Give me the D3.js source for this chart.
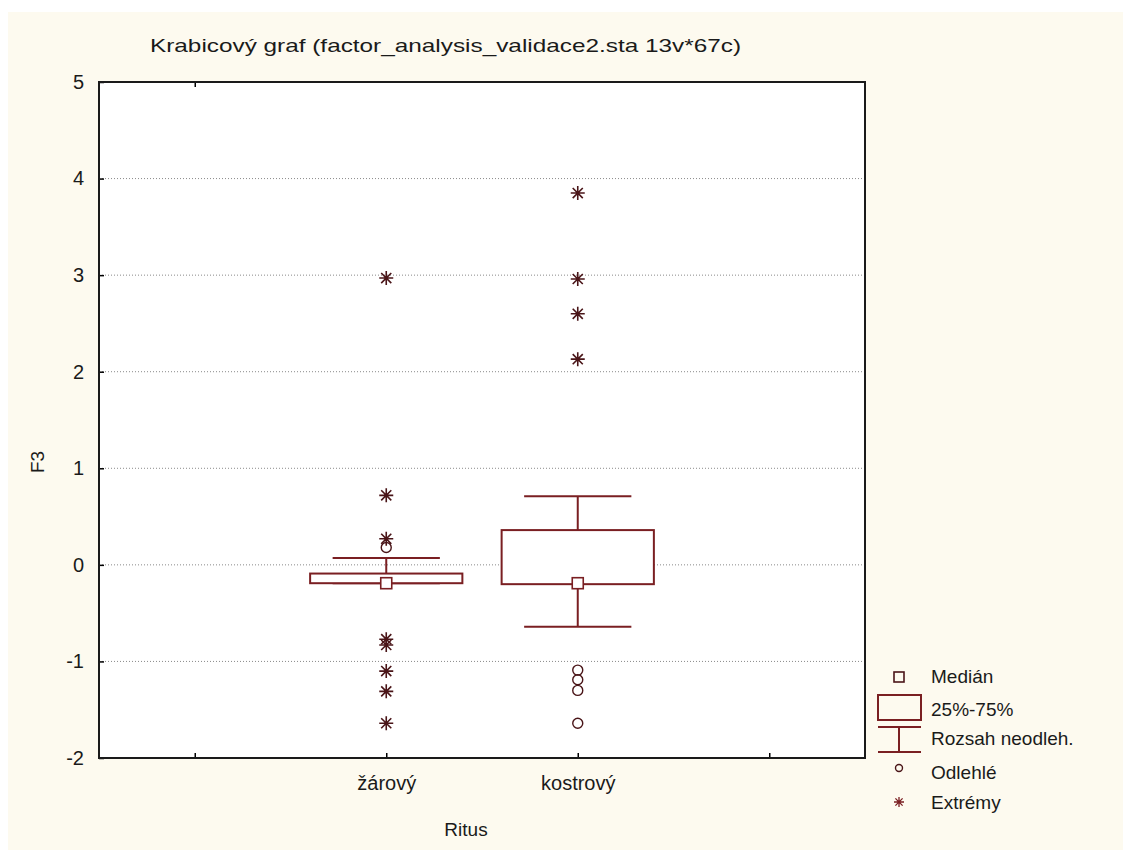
<!DOCTYPE html>
<html><head><meta charset="utf-8">
<script src="https://cdn.jsdelivr.net/npm/d3@7"></script>
<style>
html,body{margin:0;padding:0;background:#ffffff;}
svg{display:block;}
text{font-family:"Liberation Sans",Arial,sans-serif;fill:#1a1a1a;}
</style></head>
<body>
<svg id="chart" width="1123" height="850"></svg>
<script>
// ---- data ----
const title = "Krabicový graf (factor_analysis_validace2.sta 13v*67c)";
const categories = ["žárový", "kostrový"];
const categoryPositions = [2, 3];
const xTicks = [1, 2, 3, 4];
const yTicks = [-2, -1, 0, 1, 2, 3, 4, 5];
const q1 = [-0.19, -0.20];
const q3 = [-0.09, 0.36];
const medians = [-0.19, -0.19];
const whiskerLow = [-0.19, -0.64];
const whiskerHigh = [0.07, 0.71];
const outliers = [[0.18], [-1.09, -1.19, -1.30, -1.64]];
const extremes = [[2.97, 0.72, 0.27, -0.77, -0.83, -1.10, -1.31, -1.64], [3.85, 2.96, 2.60, 2.13]];
const legendLabels = ["Medián", "25%-75%", "Rozsah neodleh.", "Odlehlé", "Extrémy"];

// ---- layout ----
const svg = d3.select("#chart");
const W = 1123, H = 850;
const plot = {left: 99, top: 82, right: 865, bottom: 758};
const maroon = "#7a1f22";
const dark = "#4a1518";

svg.append("rect").attr("x", 0).attr("y", 0).attr("width", W).attr("height", H).attr("fill", "#ffffff");
svg.append("rect").attr("x", 8).attr("y", 12).attr("width", W - 8).attr("height", H - 12).attr("fill", "#fdfaef");
svg.append("rect").attr("x", plot.left).attr("y", plot.top)
  .attr("width", plot.right - plot.left).attr("height", plot.bottom - plot.top).attr("fill", "#ffffff");

const x = d3.scaleLinear().domain([0.5, 4.5]).range([plot.left, plot.right]);
const y = d3.scaleLinear().domain([-2, 5]).range([plot.bottom, plot.top]);

// grid
svg.append("g").selectAll("line").data(yTicks.filter(t => t > -2 && t < 5)).join("line")
  .attr("x1", plot.left).attr("x2", plot.right)
  .attr("y1", d => y(d)).attr("y2", d => y(d))
  .attr("stroke", "#8a8a8a").attr("stroke-width", 1).attr("stroke-dasharray", "1,2");

// axes
const yAxis = d3.axisLeft(y).tickValues(yTicks).tickSize(-5).tickPadding(15).tickFormat(d => String(d));
const gy = svg.append("g").attr("transform", `translate(${plot.left},0)`).call(yAxis);
gy.select(".domain").remove();
gy.selectAll("line").attr("stroke", "#000").attr("stroke-width", 1.5);
gy.selectAll("text").attr("font-size", 20).style("font-family", "Liberation Sans, Arial, sans-serif").attr("fill", "#1a1a1a");

const xAxis = d3.axisBottom(x).tickValues(xTicks).tickSize(-5).tickPadding(18)
  .tickFormat(d => { const i = categoryPositions.indexOf(d); return i >= 0 ? categories[i] : ""; });
const gx = svg.append("g").attr("transform", `translate(0,${plot.bottom})`).call(xAxis);
gx.select(".domain").remove();
gx.selectAll("line").attr("stroke", "#000").attr("stroke-width", 1.5);
gx.selectAll("text").attr("font-size", 20).style("font-family", "Liberation Sans, Arial, sans-serif").attr("fill", "#1a1a1a");

const xTop = d3.axisTop(x).tickValues(xTicks.slice(0, 1)).tickSize(-5).tickFormat("");
const gt = svg.append("g").attr("transform", `translate(0,${plot.top})`).call(xTop);
gt.select(".domain").remove();
gt.selectAll("line").attr("stroke", "#000").attr("stroke-width", 1.5);

// border
svg.append("rect").attr("x", plot.left).attr("y", plot.top)
  .attr("width", plot.right - plot.left).attr("height", plot.bottom - plot.top)
  .attr("fill", "none").attr("stroke", "#1a1a1a").attr("stroke-width", 2);

// boxes
const boxW = 0.795, capW = 0.56;
const g = svg.append("g");
categories.forEach((c, i) => {
  const cx = categoryPositions[i];
  g.append("line").attr("x1", x(cx)).attr("x2", x(cx)).attr("y1", y(q3[i])).attr("y2", y(whiskerHigh[i]))
    .attr("stroke", maroon).attr("stroke-width", 2);
  g.append("line").attr("x1", x(cx)).attr("x2", x(cx)).attr("y1", y(q1[i])).attr("y2", y(whiskerLow[i]))
    .attr("stroke", maroon).attr("stroke-width", 2);
  [whiskerHigh[i], whiskerLow[i]].forEach(v => {
    g.append("line").attr("x1", x(cx - capW / 2)).attr("x2", x(cx + capW / 2)).attr("y1", y(v)).attr("y2", y(v))
      .attr("stroke", maroon).attr("stroke-width", 2);
  });
  g.append("rect").attr("x", x(cx - boxW / 2)).attr("y", y(q3[i]))
    .attr("width", x(cx + boxW / 2) - x(cx - boxW / 2)).attr("height", y(q1[i]) - y(q3[i]))
    .attr("fill", "#ffffff").attr("stroke", maroon).attr("stroke-width", 2);
  g.append("rect").attr("x", x(cx) - 5.5).attr("y", y(medians[i]) - 5.5).attr("width", 11).attr("height", 11)
    .attr("fill", "#ffffff").attr("stroke", maroon).attr("stroke-width", 1.6);
  outliers[i].forEach(v => {
    g.append("circle").attr("cx", x(cx)).attr("cy", y(v)).attr("r", 5)
      .attr("fill", "none").attr("stroke", dark).attr("stroke-width", 1.4);
  });
  extremes[i].forEach(v => {
    g.append("path").attr("d", asterisk(x(cx), y(v), 7))
      .attr("fill", "none").attr("stroke", dark).attr("stroke-width", 1.6);
  });
});

function asterisk(cx, cy, r) {
  const d = r * 0.72;
  return `M${cx - r},${cy}L${cx + r},${cy}M${cx},${cy - r}L${cx},${cy + r}` +
         `M${cx - d},${cy - d}L${cx + d},${cy + d}M${cx - d},${cy + d}L${cx + d},${cy - d}`;
}

// title & axis labels
svg.append("text").attr("x", 150).attr("y", 52).attr("font-size", 19)
  .attr("textLength", 591).attr("lengthAdjust", "spacingAndGlyphs").text(title);
svg.append("text").attr("transform", "translate(44,462) rotate(-90)").attr("text-anchor", "middle")
  .attr("font-size", 19).text("F3");
svg.append("text").attr("x", 466).attr("y", 836).attr("text-anchor", "middle").attr("font-size", 19).text("Ritus");

// legend
const lg = svg.append("g");
const lx = 899;
lg.append("rect").attr("x", lx - 5).attr("y", 672).attr("width", 10).attr("height", 10)
  .attr("fill", "none").attr("stroke", dark).attr("stroke-width", 1.6);
lg.append("rect").attr("x", 878).attr("y", 695).attr("width", 43).attr("height", 25)
  .attr("fill", "none").attr("stroke", maroon).attr("stroke-width", 2);
lg.append("line").attr("x1", 878).attr("x2", 921).attr("y1", 727).attr("y2", 727).attr("stroke", maroon).attr("stroke-width", 2);
lg.append("line").attr("x1", 878).attr("x2", 921).attr("y1", 752).attr("y2", 752).attr("stroke", maroon).attr("stroke-width", 2);
lg.append("line").attr("x1", lx).attr("x2", lx).attr("y1", 727).attr("y2", 752).attr("stroke", maroon).attr("stroke-width", 2);
lg.append("circle").attr("cx", lx).attr("cy", 768).attr("r", 3.5).attr("fill", "none").attr("stroke", dark).attr("stroke-width", 1.4);
lg.append("path").attr("d", asterisk(lx, 802, 5)).attr("fill", "none").attr("stroke", maroon).attr("stroke-width", 1.3);
const textY = [683, 716, 745, 779, 809];
legendLabels.forEach((t, i) => {
  lg.append("text").attr("x", 931).attr("y", textY[i]).attr("font-size", 19).text(t);
});
</script>
</body></html>
